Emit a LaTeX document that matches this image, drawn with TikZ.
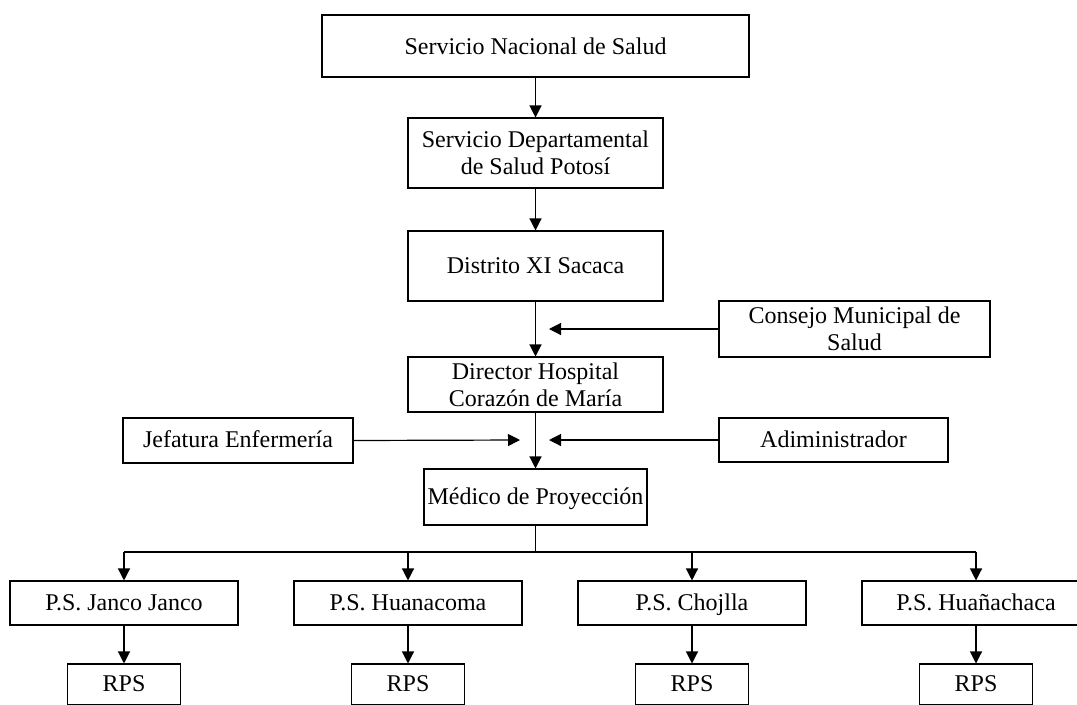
\documentclass[tikz,border=0pt]{standalone}
\usepackage{fontspec}
\setmainfont{Liberation Serif}
\usetikzlibrary{arrows.meta}
\tikzset{
  caja/.style={draw, line width=0.8pt, align=center, inner sep=0pt,
    font=\fontsize{18}{20.5}\selectfont},
  puesto/.style={caja, text height=14.5pt, text depth=4pt},
  flecha/.style={-{Triangle[length=9pt,width=9pt]}, line width=0.9pt}
}
\begin{document}
\begin{tikzpicture}[x=0.75pt,y=-0.75pt]
  \useasboundingbox (0,0) rectangle (1077,704);
  \node[caja, line width=1.5pt, minimum width=320pt, minimum height=46.5pt] (nac) at (535.5,46) {Servicio Nacional de Salud};
  \node[caja, minimum width=191.25pt, minimum height=52.5pt] (dep) at (535.5,153) {Servicio Departamental\\de Salud Potosí};
  \node[caja, minimum width=191.25pt, minimum height=52.5pt] (dis) at (535.5,266) {Distrito XI Sacaca};
  \node[caja, minimum width=203.25pt, minimum height=42pt] (con) at (854.5,329) {Consejo Municipal de\\Salud};
  \node[caja, minimum width=191.25pt, minimum height=41.25pt] (dir) at (535.5,384.5) {Director Hospital\\Corazón de María};
  \node[puesto, minimum width=172.5pt, minimum height=33.75pt] (jef) at (238,440.5) {Jefatura Enfermería};
  \node[puesto, minimum width=171.75pt, minimum height=33pt] (adm) at (833.5,440) {Adiministrador};
  \node[puesto, minimum width=167.25pt, minimum height=42pt] (med) at (535.5,497) {Médico de Proyección};
  \coordinate (llegaCon) at (549,329);
  \coordinate (llegaJef) at (520,440);
  \coordinate (llegaAdm) at (549,440);
  \coordinate (bus) at (535.5,552);
  % puestos de salud
  \foreach \i/\nombre in {1/Janco Janco, 2/Huanacoma, 3/Chojlla, 4/Huañachaca} {
    \node[puesto, minimum width=171pt, minimum height=33pt] (ps\i) at ({124+284*(\i-1)},603) {P.S. \nombre};
    \node[puesto, minimum width=84.75pt, minimum height=30.75pt] (rps\i) at ({124+284*(\i-1)},684.5) {RPS};
    \draw[flecha] (ps\i.south) -- (rps\i.north);
  }
  \draw[flecha] (nac) -- (dep);
  \draw[flecha] (dep) -- (dis);
  \draw[flecha] (dis) -- (dir);
  \draw[flecha] (con.west) -- (llegaCon);
  \draw[flecha] (dir) -- (med);
  \draw[flecha] (jef.east) -- (llegaJef);
  \draw[flecha] (adm.west) -- (llegaAdm);
  \draw[line width=0.9pt] (med.south) -- (bus);
  \draw[line width=0.9pt] (ps1.north |- bus) -- (ps4.north |- bus);
  \foreach \i in {1,...,4}
    \draw[flecha] (ps\i.north |- bus) -- (ps\i.north);
\end{tikzpicture}
\end{document}
